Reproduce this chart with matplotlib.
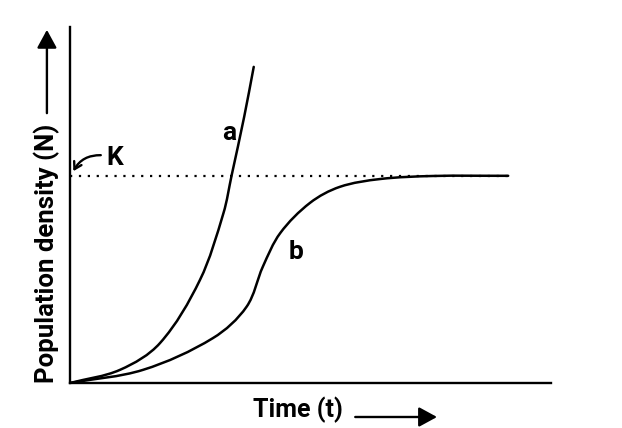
import matplotlib
matplotlib.use("Agg")
import matplotlib.pyplot as plt
import numpy as np
from matplotlib.path import Path
from matplotlib.patches import PathPatch

# values (time, population density)
time_a = [0.0, 1.04, 1.87, 2.70, 3.19, 3.36, 3.62, 3.82]
dens_a = [0.0, 0.37, 1.12, 2.89, 4.77, 5.83, 7.47, 8.88]

time_b = [0.0, 1.52, 2.97, 3.67, 4.01, 4.37, 4.99, 5.61, 6.45, 7.55, 9.11]
dens_b = [0.0, 0.37, 1.26, 2.14, 3.27, 4.21, 5.06, 5.51, 5.73, 5.815, 5.82]

carrying_capacity = 5.82
t_end = 9.11

FONT = ["Roboto", "DejaVu Sans"]


def smooth_path(ax, xs, ys):
    # cubic bezier through the read points, tangents from chord lengths on screen
    pts = np.column_stack([xs, ys])
    scr = ax.transData.transform(pts)
    seg = np.linalg.norm(np.diff(scr, axis=0), axis=1)
    n = len(pts)
    tang = np.zeros_like(scr)
    for i in range(n):
        lo, hi = max(i - 1, 0), min(i + 1, n - 1)
        tang[i] = (scr[hi] - scr[lo]) / np.linalg.norm(scr[hi] - scr[lo])
    verts = [scr[0]]
    codes = [Path.MOVETO]
    for i in range(n - 1):
        d = seg[i] / 3
        verts += [scr[i] + tang[i] * d, scr[i + 1] - tang[i + 1] * d, scr[i + 1]]
        codes += [Path.CURVE4] * 3
    verts = ax.transData.inverted().transform(np.array(verts))
    return Path(verts, codes)


fig = plt.figure(figsize=(6.22, 4.28), dpi=100)
ax = fig.add_axes([70 / 622, 45 / 428, 481 / 622, 356 / 428])
ax.set_xlim(0, 10)
ax.set_ylim(0, 10)
for side in ("top", "right"):
    ax.spines[side].set_visible(False)
for side in ("left", "bottom"):
    ax.spines[side].set_linewidth(1.7)
ax.set_xticks([])
ax.set_yticks([])

for xs, ys in ((time_a, dens_a), (time_b, dens_b)):
    ax.add_patch(PathPatch(smooth_path(ax, xs, ys), fill=False, lw=1.8,
                           ec="black", capstyle="round"))

ax.plot([0, t_end], [carrying_capacity, carrying_capacity], color="black",
        lw=1.6, linestyle=(0, (1, 3.0)))

ax.text(3.30, 7.02, "a", fontsize=19, fontweight="bold", family=FONT,
        ha="center", va="center")
ax.text(4.71, 3.68, "b", fontsize=19, fontweight="bold", family=FONT,
        ha="center", va="center")
ax.text(0.93, 6.33, "K", fontsize=19, fontweight="bold", family=FONT,
        ha="center", va="center")
ax.annotate("", xy=(0.07, 5.95), xytext=(0.64, 6.40),
            arrowprops=dict(arrowstyle="->,head_length=0.5,head_width=0.3",
                            connectionstyle="arc3,rad=0.3", lw=1.7,
                            color="black", mutation_scale=10,
                            shrinkA=0, shrinkB=0))

ax.text(-0.48, 3.65, "Population density (N)", rotation=90, fontsize=18.5,
        fontweight="bold", family=FONT, ha="center", va="center",
        clip_on=False)
ax.annotate("", xy=(-0.48, 9.92), xytext=(-0.48, 7.58), annotation_clip=False,
            arrowprops=dict(arrowstyle="-|>,head_length=0.55,head_width=0.3",
                            lw=1.7, color="black", mutation_scale=20,
                            shrinkA=0, shrinkB=0))

ax.text(4.74, -0.76, "Time (t)", fontsize=18, fontweight="bold",
        family=FONT, ha="center", va="center", clip_on=False)
ax.annotate("", xy=(7.63, -0.955), xytext=(5.93, -0.955), annotation_clip=False,
            arrowprops=dict(arrowstyle="-|>,head_length=0.55,head_width=0.3",
                            lw=1.7, color="black", mutation_scale=20,
                            shrinkA=0, shrinkB=0))

fig.savefig("out.png", dpi=100)
